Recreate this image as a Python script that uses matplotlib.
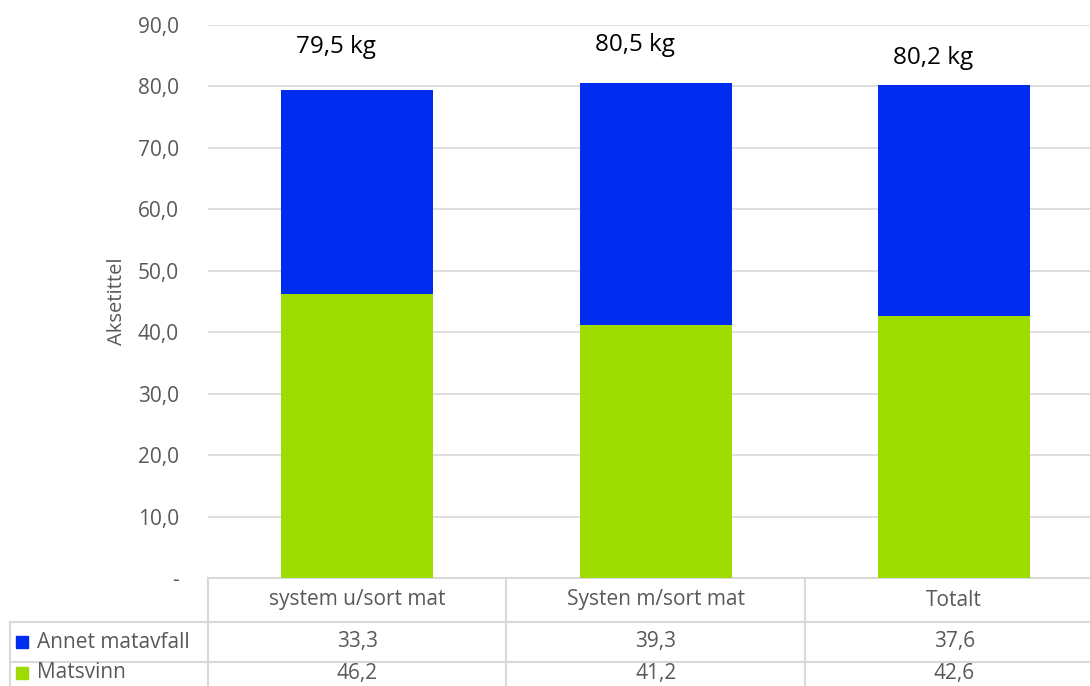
import matplotlib.pyplot as plt
import numpy as np

categories = ["system u/sort mat", "Systen m/sort mat", "Totalt"]
series_names = ["Annet matavfall", "Matsvinn"]
annet = [33.3, 39.3, 37.6]
matsvinn = [46.2, 41.2, 42.6]
label_heights = [86.4, 86.8, 84.7]
y_ticks = [0, 10, 20, 30, 40, 50, 60, 70, 80, 90]

BLUE = "#002CEF"
GREEN = "#9EDB00"
GRID = "#d9d9d9"
TICK = "#595959"

plt.rcParams["font.family"] = ["Open Sans", "DejaVu Sans"]

W, H = 1090, 686
fig = plt.figure(figsize=(W / 100, H / 100), dpi=100)
ax = fig.add_axes([208 / W, 1 - 578 / H, 882 / W, 553 / H])

x = np.arange(len(categories))
ax.bar(x, matsvinn, width=0.51, color=GREEN, zorder=3)
ax.bar(x, annet, width=0.51, bottom=matsvinn, color=BLUE, zorder=3)

totals = np.array(annet) + np.array(matsvinn)
for xi, tot, hy in zip(x, totals, label_heights):
    ax.text(xi - 0.07, hy, f"{tot:.1f} kg".replace(".", ","), ha="center",
            va="center", fontsize=17.5, color="black")

ax.set_xlim(-0.5, 2.455)
ax.set_ylim(0, 90)
ax.set_yticks(y_ticks)
ax.set_yticklabels(["-"] + [f"{v:.1f}".replace(".", ",") for v in y_ticks[1:]])
ax.tick_params(axis="y", length=0, pad=21, labelsize=15, labelcolor=TICK)
ax.set_xticks([])
ax.grid(axis="y", color=GRID, linewidth=1.2, zorder=0)
for s in ax.spines.values():
    s.set_visible(False)
ax.set_ylabel("Aksetittel", fontsize=14.5, color=TICK, labelpad=8)

# data table below the plot
tr = ax.get_xaxis_transform()
px = 1 / 553
row_edges = [0, -44 * px, -84 * px, -124 * px]
left_edge = -0.5 - 198 / 298.5
line_kw = dict(color=GRID, linewidth=1.5, clip_on=False, transform=tr)
ax.plot([-0.5, 2.455], [0, 0], **line_kw)
for y in row_edges[1:3]:
    ax.plot([left_edge, 2.455], [y, y], **line_kw)
for xv in [-0.5, 0.5, 1.5]:
    ax.plot([xv, xv], [0, row_edges[3]], **line_kw)
ax.plot([left_edge, left_edge], [row_edges[1], row_edges[3]], **line_kw)

for xi, cat in zip(x, categories):
    ax.text(xi, row_edges[1] / 2, cat, transform=tr, ha="center", va="center",
            fontsize=15, color=TICK)
rows = [annet, matsvinn]
colors = [BLUE, GREEN]
for r, (name, vals, c) in enumerate(zip(series_names, rows, colors)):
    yc = (row_edges[r + 1] + row_edges[r + 2]) / 2
    if r == 1:
        yc = row_edges[2] - 11 * px
    ax.plot([left_edge + 0.04], [yc], marker="s", markersize=9, color=c,
            transform=tr, clip_on=False, linestyle="none")
    ax.text(left_edge + 0.09, yc, name, transform=tr, ha="left", va="center",
            fontsize=15, color=TICK)
    for xi, v in zip(x, vals):
        ax.text(xi, yc, f"{v:.1f}".replace(".", ","), transform=tr,
                ha="center", va="center", fontsize=15, color=TICK)

fig.savefig("out.png", dpi=100)
